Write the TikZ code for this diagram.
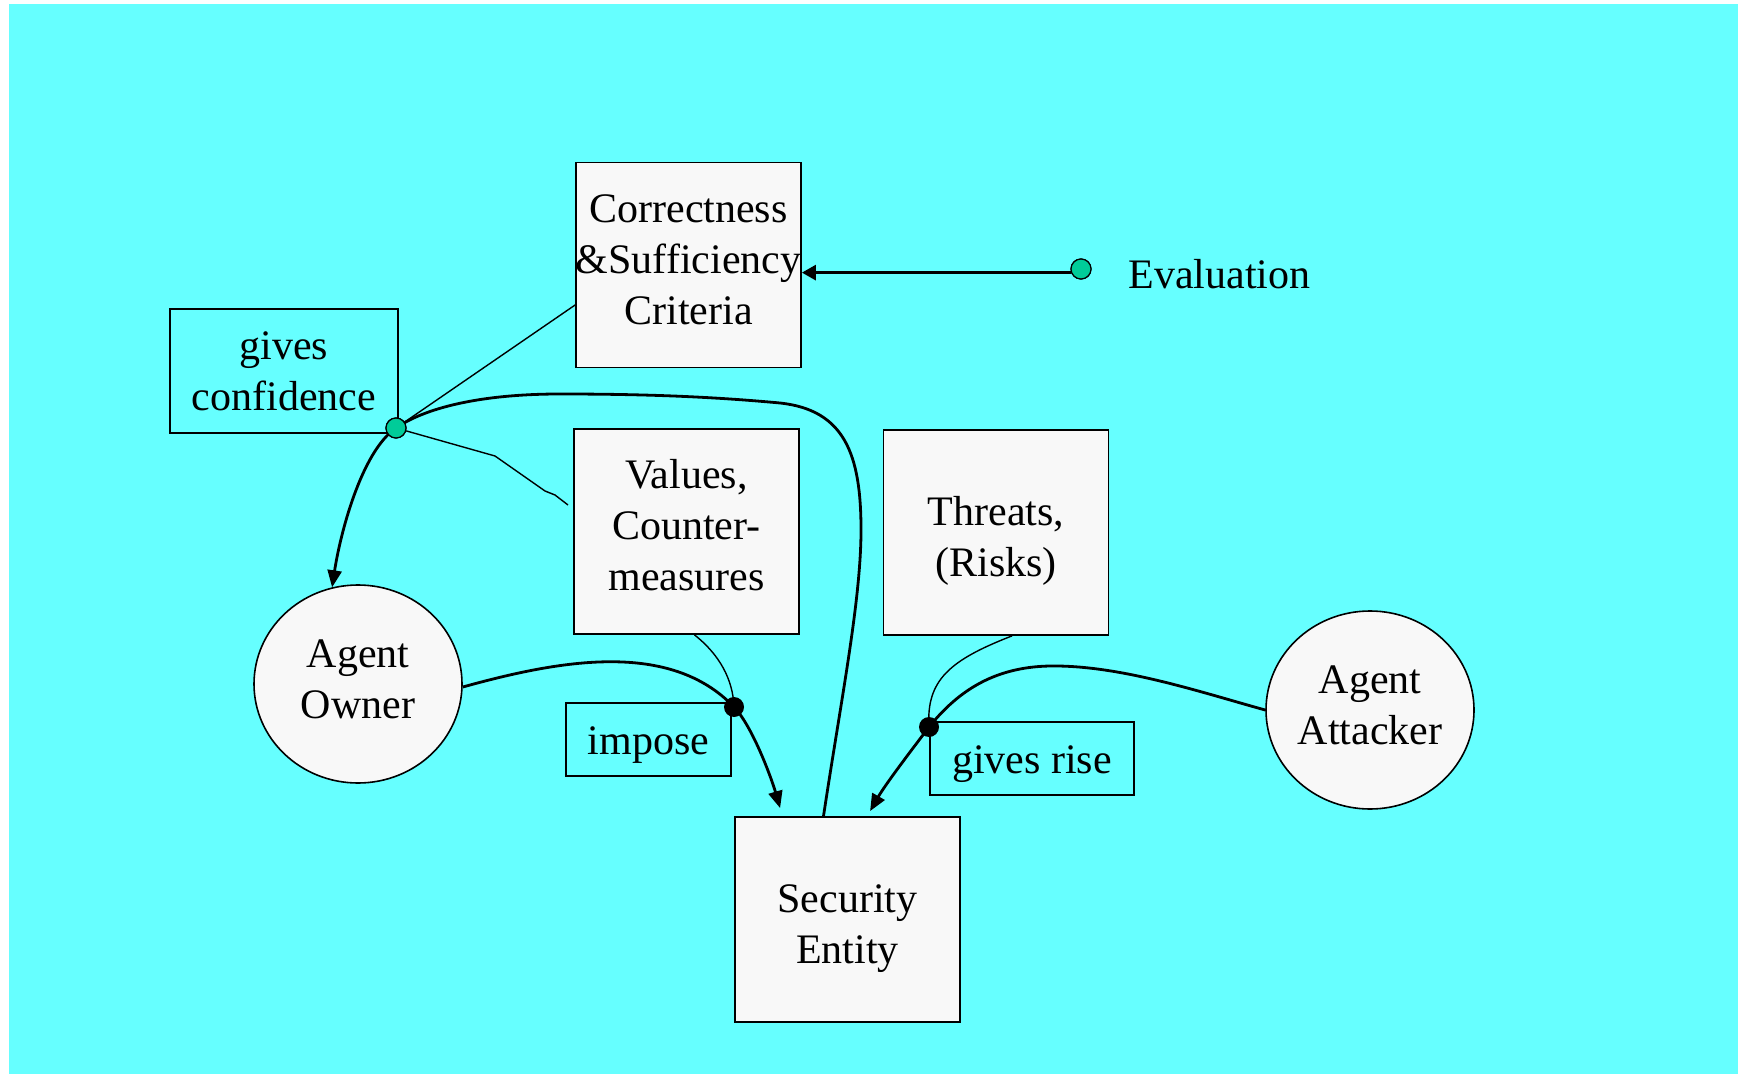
\documentclass[tikz,border=0pt]{standalone}
\usepackage{fontspec}
\setmainfont{Liberation Serif}
\usetikzlibrary{shapes.geometric,arrows.meta,calc}
\definecolor{sky}{HTML}{66FFFF}
\definecolor{paper}{HTML}{F8F8F8}
\definecolor{jade}{HTML}{00CC99}
\begin{document}
\begin{tikzpicture}[x=0.5pt,y=-0.5pt,
  every node/.style={font=\fontsize{21}{25.5}\selectfont, align=center, inner sep=0pt},
  card/.style={draw, line width=0.9pt, fill=paper, minimum width=112.5pt, minimum height=102.5pt},
  tag/.style={draw, line width=0.9pt},
  agent/.style={ellipse, draw, line width=0.8pt, fill=paper, minimum width=104pt, minimum height=99pt},
  flow/.style={line width=1.4pt, -{Triangle[length=8.5pt,width=7pt]}},
  hair/.style={line width=0.7pt},
  joint/.style={circle, draw, line width=0.6pt, minimum size=10pt, fill=jade},
  knot/.style={circle, fill=black, minimum size=10pt}]
\useasboundingbox (0,0) rectangle (1738,1074);
\fill[white] (0,0) rectangle (1738,1074);
\fill[sky] (9,4) rectangle (1738,1074);

% boxes
\node[card] (crit) at (688.5,265) {};
\node[yshift=2.8pt] (critt) at (crit) {Correctness\\\&Sufficiency\\Criteria};
\node[card] (val) at (686.5,531.5) {};
\node[yshift=3.2pt] (valt) at (val) {Values,\\Counter-\\measures};
\node[card] (thr) at (996,532.5) {};
\node[yshift=-4.4pt] (thrt) at (thr) {Threats,\\(Risks)};
\node[card] (se) at (847.5,919.5) {};
\node[yshift=-4.4pt] (set) at (se) {Security\\Entity};

% relation labels
\node[tag, minimum width=114pt, minimum height=62pt] (gc) at (284,371) {gives\\confidence};
\node[tag, minimum width=82.5pt, minimum height=36.5pt] (imp) at (648.5,739.5) {};
\node[yshift=-2.6pt] (impt) at (imp) {impose};
\node[tag, minimum width=102pt, minimum height=36.5pt] (gr) at (1032,758.5) {};
\node[yshift=-2.6pt] (grt) at (gr) {gives rise};

% agents
\node[agent] (own) at (358,684) {};
\node[yshift=2.2pt] (ownt) at (own) {Agent\\Owner};
\node[agent] (att) at (1370,710) {};
\node[yshift=2.2pt] (attt) at (att) {Agent\\Attacker};

% junction points
\node[joint] (ev) at (1081,269) {};
\node[anchor=west] (evt) at (1128,274) {Evaluation};
\node[joint] (gj) at (396,428) {};
\node[knot] (ij) at (734,707) {};
\node[knot] (gk) at (929,727) {};
\coordinate (vtip) at (568,505);

% evaluation of the criteria
\draw[line width=1.4pt, -{Triangle[length=7pt,width=7.5pt]}] (ev.200) -- (crit.east |- ev.200);

% confidence links
\draw[hair] (gj) -- ($(crit.west)+(0,40)$);
\draw[hair] (gj) -- (495,456) -- (545,491) -- (555,495) -- (vtip);

% from the security entity back to the owner
\draw[flow] ($(se.north)+(-24,0)$) .. controls (841,700) and (861,600) .. (861,530)
  .. controls (861,455) and (845,410) .. (780,403)
  .. controls (715,397) and (650,394) .. (560,394)
  .. controls (480,394) and (425,408) .. (gj.center)
  .. controls (361,452) and (340,535) .. (own.105);

% owner imposes values on the entity
\draw[flow] ($(own.east)+(0,3)$) .. controls (560,660) and (670,640) .. (ij.center)
  .. controls (753,727) and (772,780) .. ($(se.north west)+(46,-8)$);
\draw[hair] ($(val.south)+(8,0)$) .. controls (720,655) and (733,680) .. (ij.center);

% attacker gives rise to threats
\draw[flow] (att.west) .. controls (1200,692) and (1120,665) .. (1050,666)
  .. controls (990,667) and (955,695) .. (gk.center)
  .. controls (910,752) and (885,785) .. ($(se.north west)+(136,-5)$);
\draw[hair] ($(thr.south)+(16,0)$) .. controls (950,660) and (926,680) .. (gk.center);

\node[joint] at (gj) {};
\node[joint] at (ev) {};
\end{tikzpicture}
\end{document}
